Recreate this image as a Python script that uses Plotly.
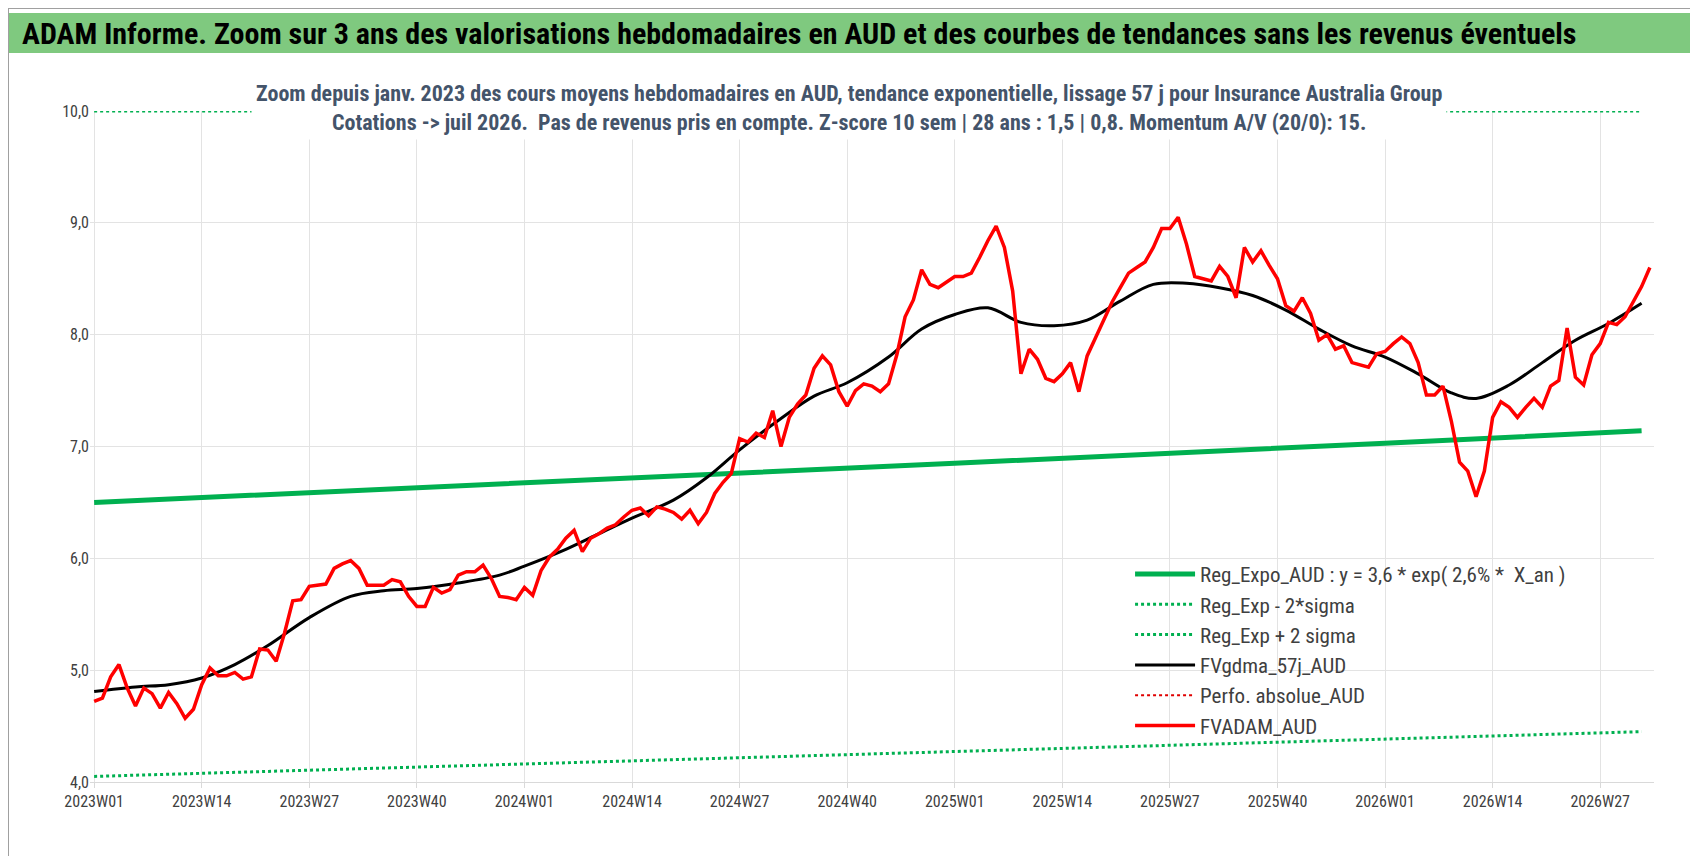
import plotly.graph_objects as go

# FVADAM_AUD, weekly, from 2023W01
fvadam = [4.72, 4.75, 4.94, 5.05, 4.84, 4.68, 4.84, 4.79, 4.66, 4.80, 4.70, 4.57, 4.65, 4.87,
          5.02, 4.95, 4.95, 4.98, 4.92, 4.94, 5.19, 5.18, 5.08, 5.33, 5.62, 5.63, 5.75, 5.76,
          5.77, 5.91, 5.95, 5.98, 5.91, 5.76, 5.76, 5.76, 5.81, 5.79, 5.66, 5.57, 5.57, 5.74,
          5.69, 5.72, 5.85, 5.88, 5.88, 5.94, 5.82, 5.66, 5.65, 5.63, 5.74, 5.67, 5.89, 6.01,
          6.08, 6.18, 6.25, 6.06, 6.18, 6.22, 6.27, 6.30, 6.37, 6.43, 6.45, 6.38, 6.46, 6.44,
          6.41, 6.35, 6.43, 6.31, 6.41, 6.58, 6.68, 6.76, 7.07, 7.04, 7.12, 7.08, 7.32, 7.00,
          7.26, 7.38, 7.46, 7.70, 7.81, 7.73, 7.49, 7.36, 7.50, 7.56, 7.54, 7.49, 7.56, 7.82,
          8.16, 8.31, 8.58, 8.45, 8.42, 8.47, 8.52, 8.52, 8.55, 8.69, 8.84, 8.97, 8.78, 8.39,
          7.65, 7.87, 7.78, 7.61, 7.58, 7.65, 7.75, 7.49, 7.81, 7.97, 8.13, 8.29, 8.42, 8.55,
          8.60, 8.65, 8.78, 8.95, 8.95, 9.05, 8.81, 8.52, 8.50, 8.48, 8.61, 8.52, 8.33, 8.78,
          8.65, 8.75, 8.62, 8.50, 8.26, 8.21, 8.33, 8.19, 7.95, 8.00, 7.87, 7.90, 7.75, 7.73,
          7.71, 7.83, 7.85, 7.92, 7.98, 7.92, 7.75, 7.46, 7.46, 7.54, 7.23, 6.86, 6.78, 6.55,
          6.78, 7.26, 7.40, 7.35, 7.26, 7.35, 7.43, 7.35, 7.54, 7.59, 8.06, 7.62, 7.55, 7.82,
          7.92, 8.11, 8.09, 8.16, 8.29, 8.43, 8.60]

weeks = []
for yr, n in [(2023, 52), (2024, 52), (2025, 52), (2026, 52)]:
    for w in range(1, n + 1):
        weeks.append(f"{yr}W{w:02d}")
weeks = weeks[:len(fvadam)]

# FVgdma_57j_AUD, read at sparse weeks
gdma_weeks = ["2023W01", "2023W06", "2023W10", "2023W14", "2023W18", "2023W22", "2023W27",
              "2023W32", "2023W36", "2023W40", "2023W45", "2023W50", "2024W01", "2024W06",
              "2024W10", "2024W14", "2024W19", "2024W23", "2024W27", "2024W32", "2024W36",
              "2024W40", "2024W45", "2024W49", "2025W01", "2025W05", "2025W09", "2025W13",
              "2025W17", "2025W21", "2025W25", "2025W29", "2025W33", "2025W37", "2025W41",
              "2025W45", "2025W49", "2026W01", "2026W05", "2026W09", "2026W12", "2026W16",
              "2026W20", "2026W24", "2026W28", "2026W32"]
gdma = [4.81, 4.85, 4.87, 4.93, 5.05, 5.22, 5.47, 5.66, 5.71, 5.73, 5.78, 5.85, 5.93, 6.08,
        6.22, 6.36, 6.52, 6.72, 6.97, 7.25, 7.45, 7.57, 7.80, 8.05, 8.18, 8.24, 8.11, 8.08,
        8.13, 8.30, 8.45, 8.46, 8.42, 8.35, 8.22, 8.05, 7.90, 7.80, 7.65, 7.48, 7.43, 7.55,
        7.75, 7.95, 8.10, 8.28]

reg_weeks = ["2023W01", "2024W01", "2025W01", "2026W01", "2026W32"]
reg_expo = [6.50, 6.67, 6.85, 7.03, 7.14]
reg_low = [4.05, 4.16, 4.27, 4.38, 4.45]
reg_high = [10.0, 10.0, 10.0, 10.0, 10.0]

tick_labels = ["2023W01", "2023W14", "2023W27", "2023W40", "2024W01", "2024W14", "2024W27",
               "2024W40", "2025W01", "2025W14", "2025W27", "2025W40", "2026W01", "2026W14",
               "2026W27"]

green = "#00B050"
fig = go.Figure()
fig.add_trace(go.Scatter(x=weeks, y=[None] * len(weeks), showlegend=False, hoverinfo="skip"))
fig.add_trace(go.Scatter(x=reg_weeks, y=reg_expo, mode="lines", line=dict(color=green, width=5),
                         name="Reg_Expo_AUD : y = 3,6 * exp( 2,6% *  X_an )"))
fig.add_trace(go.Scatter(x=reg_weeks, y=reg_low, mode="lines", line=dict(color=green, width=3, dash="dot"),
                         name="Reg_Exp - 2*sigma"))
fig.add_trace(go.Scatter(x=reg_weeks, y=reg_high, mode="lines", line=dict(color=green, width=3, dash="dot"),
                         name="Reg_Exp + 2 sigma", cliponaxis=False))
fig.add_trace(go.Scatter(x=gdma_weeks, y=gdma, mode="lines", line=dict(color="black", width=3, shape="spline"),
                         name="FVgdma_57j_AUD"))
fig.add_trace(go.Scatter(x=[None], y=[None], mode="lines", line=dict(color="#E00000", width=2, dash="dot"),
                         name="Perfo. absolue_AUD"))
fig.add_trace(go.Scatter(x=weeks, y=fvadam, mode="lines", line=dict(color="#FF0000", width=3.5),
                         name="FVADAM_AUD"))

font = "Liberation Sans Narrow, Roboto Condensed, Open Sans, sans-serif"
fig.update_layout(
    width=1698, height=856,
    paper_bgcolor="white", plot_bgcolor="white",
    margin=dict(l=82, r=52, t=103, b=82),
    font=dict(family=font, color="#595959"),
    separators=",.",
    xaxis=dict(type="category", categoryorder="array", categoryarray=weeks,
               tickmode="array", tickvals=tick_labels, ticktext=tick_labels,
               showgrid=True, gridcolor="#E3E3E3", tickfont=dict(size=16, color="#404040"),
               ticks="outside", ticklen=5, tickcolor="#D9D9D9",
               showline=True, linecolor="#D9D9D9", range=[-0.5, len(weeks) - 0.5]),
    yaxis=dict(range=[4, 10], dtick=1, tickformat=".1f", showgrid=True, gridcolor="#E3E3E3",
               tickfont=dict(size=16, color="#404040"), zeroline=False),
    legend=dict(x=0.665, y=0.34, xanchor="left", yanchor="top", bgcolor="rgba(0,0,0,0)",
                font=dict(size=21, color="#404040"), tracegroupgap=0, itemwidth=60),
    showlegend=True,
)
W = 1698 - 82 - 52
H = 856 - 103 - 82
fig.update_layout(shapes=[
    dict(type="rect", xref="paper", yref="paper", x0=-82 / W, x1=1 + 52 / W, y0=1 + 58 / H, y1=1 + 98 / H,
         fillcolor="#7FC97F", line=dict(width=0), layer="below"),
    dict(type="rect", xref="paper", yref="paper", x0=-82 / W, x1=1 + 52 / W, y0=-82 / H, y1=1 + 103 / H,
         fillcolor="rgba(0,0,0,0)", line=dict(width=2, color="#A0A0A0"), layer="below"),
])
fig.add_annotation(xref="paper", yref="paper", x=-70 / W, y=1 + 78 / H, xanchor="left", yanchor="middle",
                   showarrow=False,
                   text="<b>ADAM Informe. Zoom sur 3 ans des valorisations hebdomadaires en AUD et des courbes de tendances sans les revenus éventuels</b>",
                   font=dict(size=30, color="black", family=font))
fig.add_annotation(xref="paper", yref="paper", x=0.485, y=1.004, xanchor="center", yanchor="middle",
                   showarrow=False, bgcolor="white", borderpad=4,
                   text="<b>Zoom depuis janv. 2023 des cours moyens hebdomadaires en AUD, tendance exponentielle, lissage 57 j pour Insurance Australia Group<br>"
                        "Cotations -> juil 2026.  Pas de revenus pris en compte. Z-score 10 sem | 28 ans : 1,5 | 0,8. Momentum A/V (20/0): 15.</b>",
                   font=dict(size=22, color="#44546A", family=font))
fig.write_html("out.html")
